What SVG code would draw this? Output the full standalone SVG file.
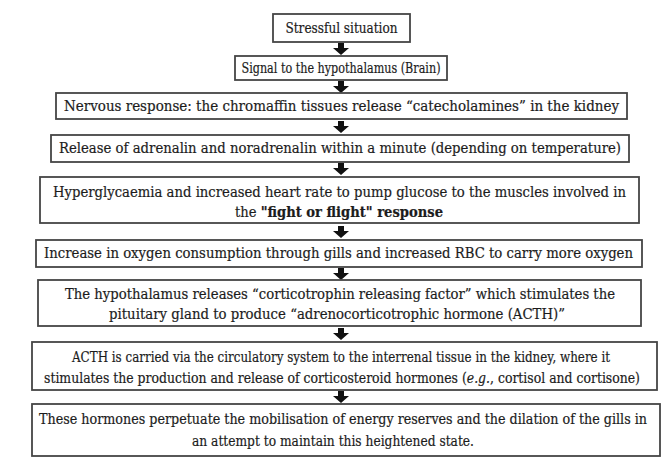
<svg xmlns="http://www.w3.org/2000/svg" width="662" height="460" viewBox="0 0 662 460">
<style>
.box{fill:#fff;stroke:#454545;stroke-width:1.8}
.t{font-family:'DejaVu Serif','Liberation Serif',serif;font-size:14.5px;fill:#1c1c1c;text-anchor:middle;stroke:#1c1c1c;stroke-width:0.2}
.b{font-weight:bold}
.arr{fill:#111}
</style>
<defs>
<path id="ar" d="M-3,0 H3 V5 H8 L0,12 L-8,5 H-3 Z"/>
</defs>
<rect width="662" height="460" fill="#fff"/>
<g id="connectors" class="arr">
<use href="#ar" x="341" y="43"/>
<use href="#ar" x="341" y="81"/>
<use href="#ar" x="341" y="121"/>
<use href="#ar" x="341" y="163"/>
<use href="#ar" x="341" y="226"/>
<use href="#ar" x="341" y="268"/>
<use href="#ar" x="341" y="328"/>
<use href="#ar" x="341" y="391"/>
</g>
<g id="n1"><rect class="box" x="273" y="14" width="137" height="28"/>
<text class="t" x="341.5" y="33" textLength="112" lengthAdjust="spacingAndGlyphs">Stressful situation</text></g>
<g id="n2"><rect class="box" x="235" y="56" width="212" height="24"/>
<text class="t" x="341" y="73" textLength="199" lengthAdjust="spacingAndGlyphs">Signal to the hypothalamus (Brain)</text></g>
<g id="n3"><rect class="box" x="56" y="93" width="571" height="26"/>
<text class="t" x="341.5" y="111" textLength="555" lengthAdjust="spacingAndGlyphs">Nervous response: the chromaffin tissues release “catecholamines” in the kidney</text></g>
<g id="n4"><rect class="box" x="51" y="135" width="578" height="27"/>
<text class="t" x="340" y="153" textLength="562" lengthAdjust="spacingAndGlyphs">Release of adrenalin and noradrenalin within a minute (depending on temperature)</text></g>
<g id="n5"><rect class="box" x="40" y="177" width="599" height="46"/>
<text class="t" x="339.5" y="197" textLength="573" lengthAdjust="spacingAndGlyphs">Hyperglycaemia and increased heart rate to pump glucose to the muscles involved in</text>
<text class="t" x="339" y="217" textLength="208" lengthAdjust="spacingAndGlyphs">the <tspan class="b">"fight or flight" response</tspan></text></g>
<g id="n6"><rect class="box" x="36" y="240" width="606" height="27"/>
<text class="t" x="338.5" y="258" textLength="589" lengthAdjust="spacingAndGlyphs">Increase in oxygen consumption through gills and increased RBC to carry more oxygen</text></g>
<g id="n7"><rect class="box" x="38" y="280" width="603" height="46"/>
<text class="t" x="340" y="299" textLength="550" lengthAdjust="spacingAndGlyphs">The hypothalamus releases “corticotrophin releasing factor” which stimulates the</text>
<text class="t" x="337" y="319" textLength="456" lengthAdjust="spacingAndGlyphs">pituitary gland to produce “adrenocorticotrophic hormone (ACTH)”</text></g>
<g id="n8"><rect class="box" x="32" y="342" width="625" height="48"/>
<text class="t" x="341" y="362" textLength="538" lengthAdjust="spacingAndGlyphs">ACTH is carried via the circulatory system to the interrenal tissue in the kidney, where it</text>
<text class="t" x="342" y="383" textLength="596" lengthAdjust="spacingAndGlyphs">stimulates the production and release of corticosteroid hormones (<tspan font-style="italic">e.g.</tspan>, cortisol and cortisone)</text></g>
<g id="n9"><rect class="box" x="32" y="404" width="628" height="52"/>
<text class="t" x="343" y="424" textLength="608" lengthAdjust="spacingAndGlyphs">These hormones perpetuate the mobilisation of energy reserves and the dilation of the gills in</text>
<text class="t" x="333" y="446" textLength="282" lengthAdjust="spacingAndGlyphs">an attempt to maintain this heightened state.</text></g>
</svg>
